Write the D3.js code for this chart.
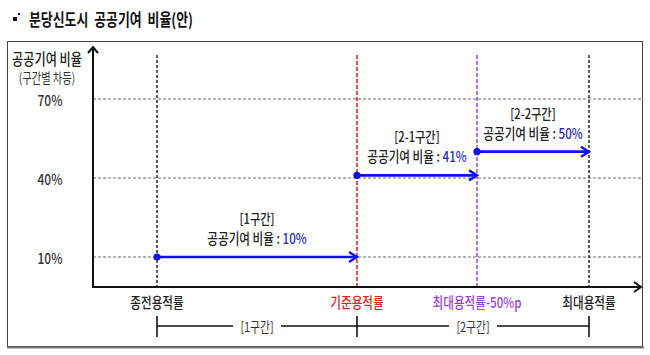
<!DOCTYPE html>
<html><head><meta charset="utf-8">
<script src="https://cdn.jsdelivr.net/npm/d3@7"></script>
<style>
html,body{margin:0;padding:0;background:#fff;}
svg{display:block;font-family:"Noto Sans CJK KR","Noto Sans",sans-serif;}
</style></head>
<body>
<svg id="chart" width="650" height="355"></svg>
<script>
// ---- data ----
const title = "분당신도시  공공기여  비율(안)";
const yTicks = [10, 40, 70];
const yTickLabels = ["10%", "40%", "70%"];
const categories = ["종전용적률", "기준용적률", "최대용적률-50%p", "최대용적률"];
const categoryPos = [0, 1, 1.6, 2.16];           // schematic position along the FAR axis
const categoryColors = ["#222", "#d62828", "#9b3fd6", "#222"];
const lineColors = ["#333", "#d62828", "#a050d8", "#333"];
const segNames = ["[1구간]", "[2-1구간]", "[2-2구간]"];
const segFrom = [0, 1, 2];
const segTo = [1, 2, 3];
const segRate = [10, 41, 50];
const bracketNames = ["[1구간]", "[2구간]"];
const bracketFrom = [0, 1];
const bracketTo = [1, 3];

const svg = d3.select("#chart");
const SX = 0.8;   // horizontal compression of the original lettering

function txt(g, x, y, str, size, fill, weight, anchor, sx) {
  return g.append("text")
    .attr("transform", `translate(${x},${y}) scale(${sx || SX},1)`)
    .attr("font-size", size).attr("fill", fill || "#222")
    .attr("font-weight", weight || 400)
    .attr("text-anchor", anchor || "middle")
    .attr("dominant-baseline", "central")
    .style("white-space", "pre")
    .text(str);
}

// scales
const x = d3.scaleLinear().domain([-0.32, 2.42]).range([93, 641]);
const y = d3.scaleLinear().domain([10, 70]).range([257, 99]);
const yBase = 287, yTop = 47;

// title
svg.append("rect").attr("x", 13).attr("y", 17).attr("width", 4).attr("height", 4).attr("fill", "#111");
svg.append("rect").attr("x", 18).attr("y", 13).attr("width", 2).attr("height", 2).attr("fill", "#111");
txt(svg, 29, 18, title, 17, "#111", 700, "start", 0.76);

// frame
svg.append("rect").attr("x", 7.5).attr("y", 41.5).attr("width", 635).attr("height", 305)
  .attr("fill", "none").attr("stroke", "#444").attr("stroke-width", 1);
svg.append("line").attr("x1", 7).attr("x2", 644).attr("y1", 347.5).attr("y2", 347.5)
  .attr("stroke", "#777").attr("stroke-width", 2);

// gridlines
svg.append("g").selectAll("line").data(yTicks).join("line")
  .attr("x1", x.range()[0]).attr("x2", 642)
  .attr("y1", d => y(d)).attr("y2", d => y(d))
  .attr("stroke", "#666").attr("stroke-width", 1).attr("stroke-dasharray", "3,2");

// y tick labels
yTicks.forEach((t, i) => txt(svg, 50, y(t), yTickLabels[i], 15, "#333", 500));

// y axis title
txt(svg, 47, 58, "공공기여 비율", 16, "#222", 500, "middle", 0.76);
txt(svg, 47, 77, "(구간별 차등)", 13.5, "#333", 400, "middle", 0.76);

// vertical category lines
svg.append("g").selectAll("line").data(categories).join("line")
  .attr("x1", (d, i) => x(categoryPos[i])).attr("x2", (d, i) => x(categoryPos[i]))
  .attr("y1", 55).attr("y2", yBase)
  .attr("stroke", (d, i) => lineColors[i]).attr("stroke-width", 1.6)
  .attr("stroke-dasharray", (d, i) => i === 0 || i === 3 ? "3,2" : "4,2");

// axes
svg.append("line").attr("x1", x.range()[0]).attr("x2", x.range()[0]).attr("y1", yTop).attr("y2", yBase + 1)
  .attr("stroke", "#111").attr("stroke-width", 2);
svg.append("line").attr("x1", x.range()[0]).attr("x2", x.range()[1]).attr("y1", yBase).attr("y2", yBase)
  .attr("stroke", "#111").attr("stroke-width", 2);
svg.append("path").attr("d", `M${x.range()[0] - 5},${yTop + 6} L${x.range()[0]},${yTop} L${x.range()[0] + 5},${yTop + 6}`)
  .attr("fill", "none").attr("stroke", "#111").attr("stroke-width", 2);
svg.append("path").attr("d", `M${x.range()[1] - 7},${yBase - 5} L${x.range()[1]},${yBase} L${x.range()[1] - 7},${yBase + 5}`)
  .attr("fill", "none").attr("stroke", "#111").attr("stroke-width", 2);

// category labels
categories.forEach((c, i) => txt(svg, x(categoryPos[i]), 302, c, 14.5, categoryColors[i], 500));

// segment arrows
const blue = "#1010f0";
const segs = svg.append("g");
segRate.forEach((r, i) => {
  const x0 = x(categoryPos[segFrom[i]]), x1 = x(categoryPos[segTo[i]]), yy = y(r);
  segs.append("line").attr("x1", x0).attr("x2", x1 - 1).attr("y1", yy).attr("y2", yy)
    .attr("stroke", blue).attr("stroke-width", 2.6);
  segs.append("path").attr("d", `M${x1 - 8},${yy - 5} L${x1},${yy} L${x1 - 8},${yy + 5}`)
    .attr("fill", "none").attr("stroke", blue).attr("stroke-width", 2.4);
  segs.append("circle").attr("cx", x0).attr("cy", yy).attr("r", 3.6).attr("fill", blue);
  const cx = (x0 + x1) / 2;
  txt(segs, cx, yy - 39, segNames[i], 14, "#222", 500);
  const t = segs.append("text")
    .attr("transform", `translate(${cx},${yy - 19.5}) scale(${SX},1)`)
    .attr("font-size", 14.5).attr("font-weight", 500)
    .attr("text-anchor", "middle").attr("dominant-baseline", "central");
  t.append("tspan").attr("fill", "#222").text("공공기여 비율 : ");
  t.append("tspan").attr("fill", "#2a2ab0").text(r + "%");
});

// bottom brackets
const bg = svg.append("g");
const by = 326;
bracketNames.forEach((n, i) => {
  const x0 = x(categoryPos[bracketFrom[i]]), x1 = x(categoryPos[bracketTo[i]]);
  bg.append("line").attr("x1", x0).attr("x2", x1).attr("y1", by).attr("y2", by)
    .attr("stroke", "#111").attr("stroke-width", 1.6);
  const cx = (x0 + x1) / 2;
  bg.append("rect").attr("x", cx - 24).attr("y", by - 8).attr("width", 48).attr("height", 16).attr("fill", "#fff");
  txt(bg, cx, by, n, 13.5, "#333");
});
[0, 1, 3].forEach(k => {
  const xx = x(categoryPos[k]);
  bg.append("line").attr("x1", xx).attr("x2", xx).attr("y1", by - 10).attr("y2", by + 11)
    .attr("stroke", "#111").attr("stroke-width", 1.6);
});
</script>
</body></html>
